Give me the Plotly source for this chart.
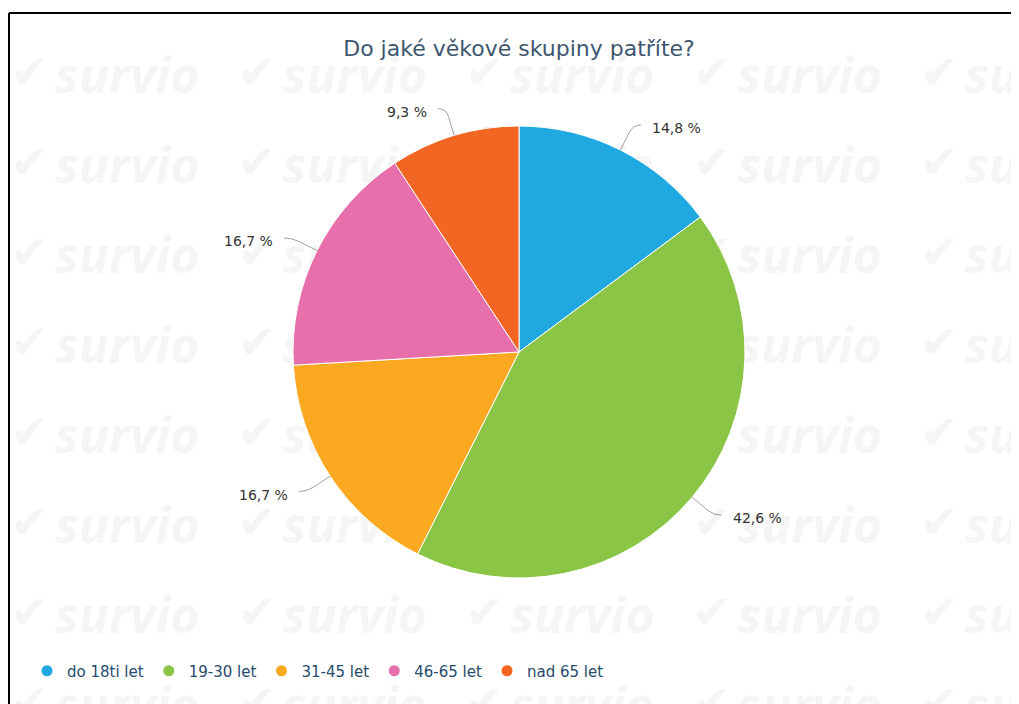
import math
import plotly.graph_objects as go

# ---- data ----
categories = ["do 18ti let", "19-30 let", "31-45 let", "46-65 let", "nad 65 let"]
counts = [8, 23, 9, 9, 5]
colors = ["#20a9e1", "#8bc546", "#fba921", "#e76fab", "#f26522"]
title_text = "Do jaké věkové skupiny patříte?"

W, H = 1019, 704
OFF = 8  # page body margin
CX, CY, R = 519, 352, 226

total = sum(counts)
pct_labels = [f"{c / total * 100:.1f} %".replace(".", ",") for c in counts]

def px(x):
    return (x - OFF) / W

def py(y):
    return 1 - (y - OFF) / H

fig = go.Figure()

# watermark (background, below the pie)
wm_x, wm_y, ck_x = [], [], []
for i in range(5):
    for j in range(8):
        wm_x.append(55 + 227.5 * i - OFF)
        ck_x.append(10 + 227.5 * i - OFF)
        wm_y.append(80 + 90 * j - OFF)
fig.add_trace(go.Scatter(x=ck_x, y=[y - 4 for y in wm_y], mode="text", text=["✔"] * len(ck_x),
                         textposition="middle right", showlegend=False, hoverinfo="skip",
                         textfont=dict(family="DejaVu Sans", size=46, color="#f5f5f5")))
fig.add_trace(go.Scatter(x=wm_x, y=wm_y, mode="text", text=["survio"] * len(wm_x),
                         textposition="middle right", showlegend=False, hoverinfo="skip",
                         textfont=dict(family="Open Sans", size=50, color="#f5f5f5",
                                       weight="bold", style="italic")))

# legend entries (circle markers)
for cat, col in zip(categories, colors):
    fig.add_trace(go.Scatter(x=[None], y=[None], mode="markers", name=cat,
                             marker=dict(color=col, size=11, symbol="circle"),
                             hoverinfo="skip"))

fig.add_trace(go.Pie(
    labels=categories, values=counts, sort=False, direction="clockwise", rotation=0,
    marker=dict(colors=colors, line=dict(color="white", width=1)),
    textinfo="none", showlegend=False,
    domain=dict(x=[px(CX - R), px(CX + R)], y=[py(CY + R), py(CY - R)]),
))

shapes = []
annotations = []
cum = 0
for c, lab in zip(counts, pct_labels):
    mid = (cum + c / 2) / total * 2 * math.pi
    cum += c
    s, co = math.sin(mid), math.cos(mid)
    ex, ey = CX + R * s, CY - R * co
    ax, ay = CX + (R + 20) * s, CY - (R + 20) * co
    qx, qy = CX + (R + 28) * s, CY - (R + 28) * co
    side = 1 if s > 0 else -1
    hx, hy = qx + side * 8, qy
    path = (f"M {px(ex)},{py(ey)} L {px(ax)},{py(ay)} "
            f"Q {px(qx)},{py(qy)} {px(hx)},{py(hy)}")
    shapes.append(dict(type="path", xref="paper", yref="paper", path=path,
                       line=dict(color="#a0a0a0", width=1)))
    annotations.append(dict(x=px(hx + side * 9), y=py(qy + 3), xref="paper", yref="paper",
                            text=lab, showarrow=False,
                            xanchor="left" if side > 0 else "right", yanchor="middle",
                            font=dict(family="DejaVu Sans", size=14, color="#333333")))

# border (top and left edges)
shapes.append(dict(type="line", xref="paper", yref="paper", x0=px(9), x1=1.2, y0=py(13), y1=py(13),
                   line=dict(color="black", width=2)))
shapes.append(dict(type="line", xref="paper", yref="paper", x0=px(9), x1=px(9), y0=py(13), y1=-0.2,
                   line=dict(color="black", width=2)))

fig.update_layout(
    width=W, height=H,
    margin=dict(l=0, r=0, t=0, b=0),
    paper_bgcolor="white", plot_bgcolor="white",
    title=dict(text=title_text, x=px(CX), xanchor="center", y=py(48), yanchor="middle",
               font=dict(family="DejaVu Sans", size=22, color="#3e576f")),
    xaxis=dict(visible=False, range=[0, W], domain=[0, 1], fixedrange=True),
    yaxis=dict(visible=False, range=[H, 0], domain=[0, 1], fixedrange=True),
    showlegend=True,
    legend=dict(orientation="h", x=px(27), y=py(671), xanchor="left", yanchor="middle",
                font=dict(family="DejaVu Sans", size=15, color="#274b6d"),
                bgcolor="rgba(0,0,0,0)"),
    shapes=shapes, annotations=annotations,
)

fig.write_html("out.html")
